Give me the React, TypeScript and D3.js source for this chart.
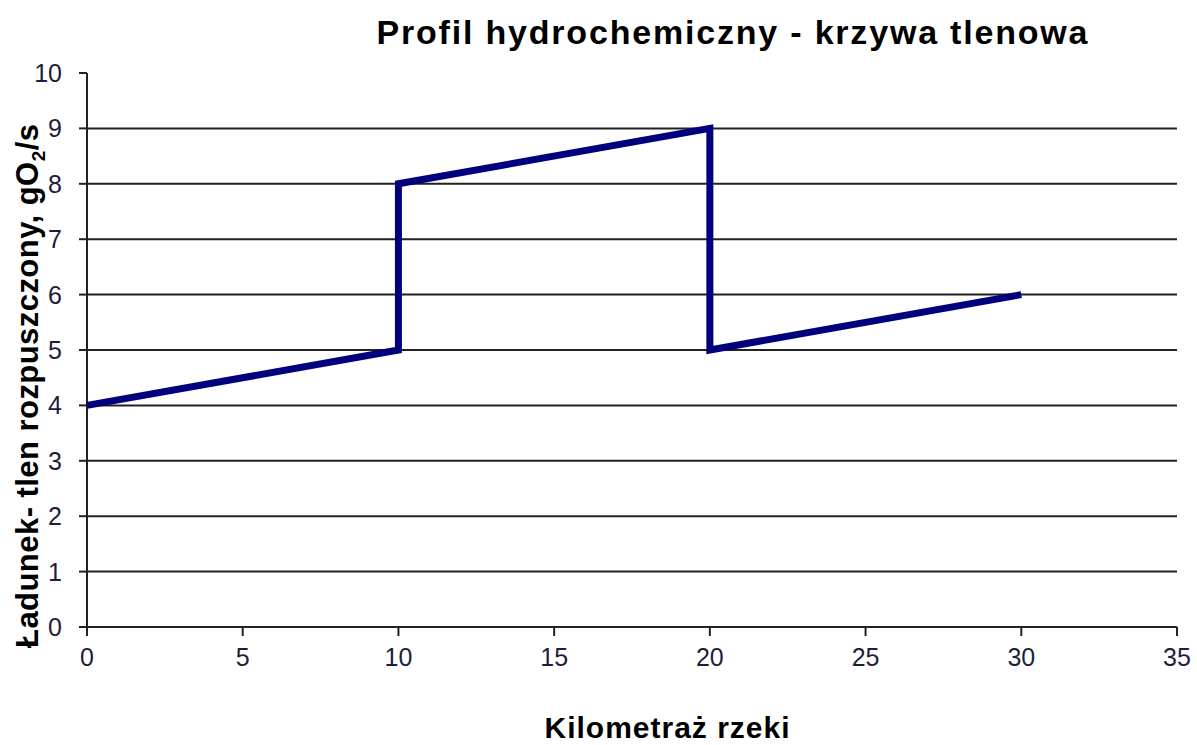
import React from "react";
import * as d3 from "d3";

// Kilometraż rzeki vs ładunek tlenu (gO2/s)
const kmValues = [0, 10, 10, 20, 20, 30];
const oxygenLoad = [4, 5, 8, 9, 5, 6];

const xTicks = [0, 5, 10, 15, 20, 25, 30, 35];
const yTicks = [0, 1, 2, 3, 4, 5, 6, 7, 8, 9, 10];

const titleText = "Profil hydrochemiczny - krzywa tlenowa";
const xLabel = "Kilometraż rzeki";

const width = 1197;
const height = 745;

export default function App() {
  const margin = { top: 73, right: 20, bottom: 118, left: 87 };
  const innerWidth = 1177 - margin.left;
  const innerHeight = 627 - margin.top;

  const x = d3.scaleLinear().domain([0, 35]).range([0, innerWidth]);
  const y = d3.scaleLinear().domain([0, 10]).range([innerHeight, 0]);

  const points = kmValues.map((k, i) => ({ km: k, v: oxygenLoad[i] }));
  const line = d3
    .line<{ km: number; v: number }>()
    .x((d) => x(d.km))
    .y((d) => y(d.v));

  const tickColor = "#1e1e3a";

  return (
    <svg
      width={width}
      height={height}
      style={{ position: "absolute", left: 0, top: 0, background: "#fff" }}
      fontFamily="Liberation Sans, Arial, sans-serif"
    >
      <text
        x={732}
        y={44}
        textAnchor="middle"
        fontSize={34}
        fontWeight="bold"
        textLength={711}
        lengthAdjust="spacing"
        fill="#000"
      >
        {titleText}
      </text>

      <g transform={`translate(${margin.left},${margin.top})`}>
        {/* gridlines */}
        {yTicks
          .filter((t) => t > 0 && t < 10)
          .map((t) => (
            <line
              key={"g" + t}
              x1={0}
              x2={innerWidth}
              y1={y(t)}
              y2={y(t)}
              stroke="#222"
              strokeWidth={2}
            />
          ))}

        {/* y axis */}
        <line x1={0} x2={0} y1={0} y2={innerHeight} stroke="#222" strokeWidth={2} />
        {yTicks.map((t) => (
          <g key={"y" + t} transform={`translate(0,${y(t)})`}>
            <line x1={-8} x2={0} stroke="#222" strokeWidth={2} />
            <text
              x={-25}
              dy="0.36em"
              textAnchor="end"
              fontSize={25}
              fill={tickColor}
            >
              {t}
            </text>
          </g>
        ))}

        {/* x axis */}
        <line x1={0} x2={innerWidth} y1={innerHeight} y2={innerHeight} stroke="#222" strokeWidth={2} />
        {xTicks.map((t) => (
          <g key={"x" + t} transform={`translate(${x(t)},${innerHeight})`}>
            <line y1={0} y2={9} stroke="#222" strokeWidth={2} />
            <text y={39} textAnchor="middle" fontSize={25} fill={tickColor}>
              {t}
            </text>
          </g>
        ))}

        <path
          d={line(points) ?? ""}
          fill="none"
          stroke="#00007f"
          strokeWidth={7}
          strokeLinejoin="miter"
        />
      </g>

      <text
        x={667}
        y={738}
        textAnchor="middle"
        fontSize={30}
        fontWeight="bold"
        textLength={245}
        lengthAdjust="spacing"
        fill="#000"
      >
        {xLabel}
      </text>

      <text
        transform="translate(38,386) rotate(-90)"
        textAnchor="middle"
        fontSize={31}
        fontWeight="bold"
        textLength={524}
        lengthAdjust="spacing"
        fill="#000"
      >
        Ładunek- tlen rozpuszczony, gO
        <tspan fontSize={19} dy={7}>2</tspan>
        <tspan dy={-7}>/s</tspan>
      </text>
    </svg>
  );
}
